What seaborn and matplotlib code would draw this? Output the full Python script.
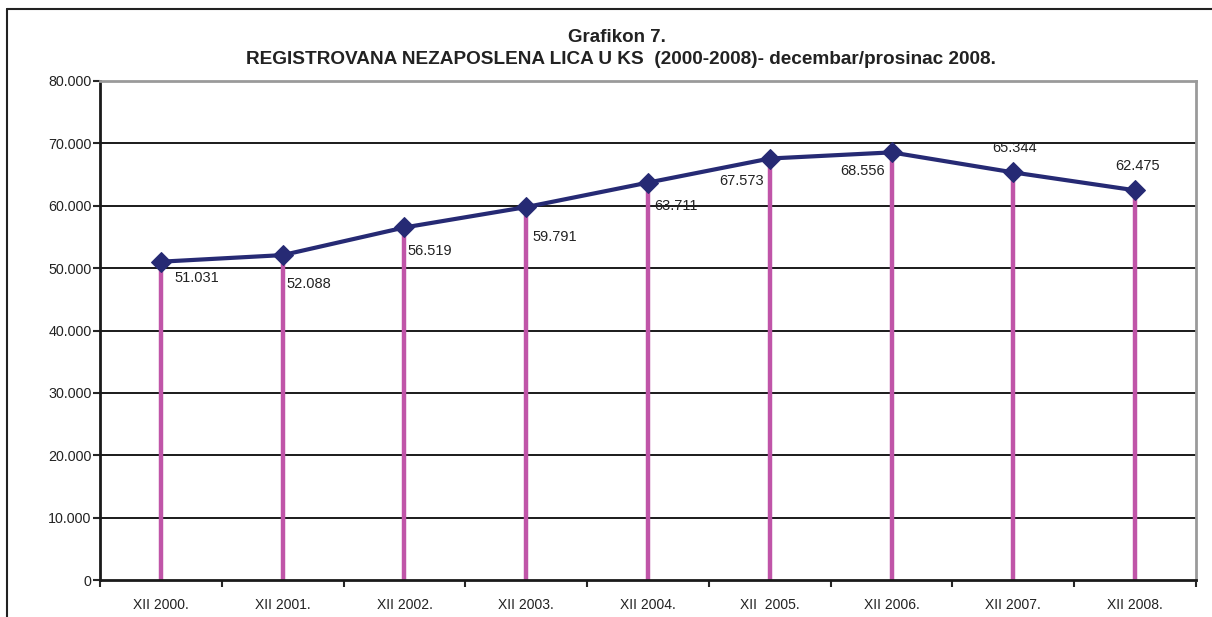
import pandas as pd
import matplotlib.pyplot as plt
import seaborn as sns
from matplotlib.lines import Line2D
from matplotlib.ticker import FuncFormatter

# Data
periods = ["XII 2000.", "XII 2001.", "XII 2002.", "XII 2003.", "XII 2004.",
           "XII  2005.", "XII 2006.", "XII 2007.", "XII 2008."]
unemployed = [51031, 52088, 56519, 59791, 63711, 67573, 68556, 65344, 62475]
value_labels = ["51.031", "52.088", "56.519", "59.791", "63.711",
                "67.573", "68.556", "65.344", "62.475"]

# label offsets in pixels (dx, dy)
label_offsets = [(36, -16), (26, -29), (25, -24), (29, -30), (28, -23),
                 (-28, -22), (-29, -19), (1, 24), (2, 24)]

df = pd.DataFrame({"pos": [i + 0.5 for i in range(len(periods))],
                   "value": unemployed})

sns.set_style("white")
plt.rcParams["font.family"] = ["Liberation Sans", "DejaVu Sans"]

fig = plt.figure(figsize=(12.12, 6.17), dpi=100)
ax = fig.add_axes([100 / 1212, 37 / 617, 1096 / 1212, 499 / 617])

# outer frame (top and left only, like the cropped original)
fig.add_artist(Line2D([7 / 1212, 7 / 1212], [0, 1 - 9 / 617], color="#222222", lw=1.5,
                      transform=fig.transFigure))
fig.add_artist(Line2D([7 / 1212, 1], [1 - 9 / 617, 1 - 9 / 617], color="#222222", lw=1.5,
                      transform=fig.transFigure))

ax.set_xlim(0, len(periods))
ax.set_ylim(0, 80000)

# grid lines
for y in range(10000, 80000, 10000):
    ax.axhline(y, color="#1a1a1a", lw=1.4, zorder=1)

# drop lines
ax.vlines(df["pos"], 0, df["value"], color="#C055A8", lw=3.2, zorder=2)

sns.lineplot(data=df, x="pos", y="value", ax=ax, color="#262A74", lw=3,
             marker="D", markersize=10, markeredgecolor="#262A74", zorder=3)

for x, y, lab, (dx, dy) in zip(df["pos"], df["value"], value_labels, label_offsets):
    ax.annotate(lab, (x, y), xytext=(dx, dy), textcoords="offset pixels",
                ha="center", va="center", fontsize=10.5, color="#222222", zorder=4)

ax.set_yticks(range(0, 80001, 10000))
ax.yaxis.set_major_formatter(FuncFormatter(lambda v, p: f"{int(v):,}".replace(",", ".")))
ax.set_xticks(range(0, len(periods) + 1))
ax.set_xticklabels([])
ax.set_xticks(df["pos"], minor=True)
ax.set_xticklabels(periods, minor=True)
ax.tick_params(axis="x", which="minor", length=0, pad=13, labelsize=10, labelcolor="#222222")
ax.tick_params(axis="x", which="major", length=5, width=1.5, direction="out", bottom=True)
ax.tick_params(axis="y", length=5, width=1.5, direction="out", left=True,
               labelsize=10.3, labelcolor="#222222", pad=1)
ax.set_xlabel("")
ax.set_ylabel("")

for side in ["left", "bottom"]:
    ax.spines[side].set_color("#1a1a1a")
    ax.spines[side].set_linewidth(2)
for side in ["top", "right"]:
    ax.spines[side].set_color("#9a9a9a")
    ax.spines[side].set_linewidth(2)

fig.text(617 / 1212, 1 - 37 / 617, "Grafikon 7.", ha="center", va="center",
         fontsize=13.5, fontweight="bold", color="#222222")
fig.text(621 / 1212, 1 - 60 / 617,
         "REGISTROVANA NEZAPOSLENA LICA U KS  (2000-2008)- decembar/prosinac 2008.",
         ha="center", va="center", fontsize=13.7, fontweight="bold", color="#222222")

plt.savefig("out.png", dpi=100)
